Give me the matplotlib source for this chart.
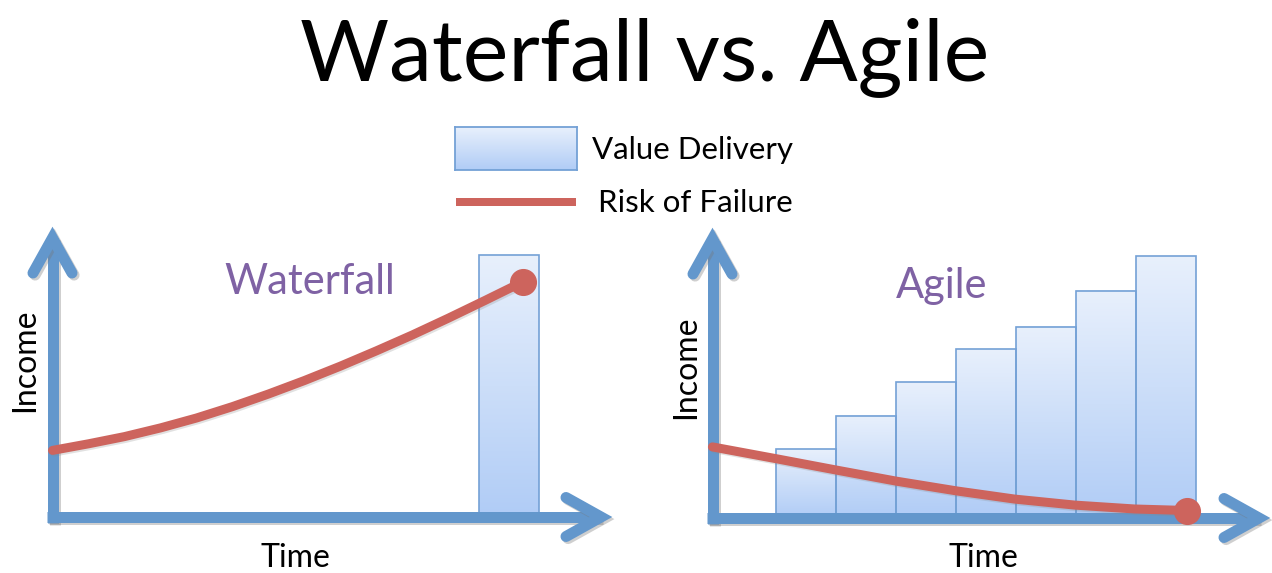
import numpy as np
import matplotlib
matplotlib.use("Agg")
import matplotlib.pyplot as plt
from matplotlib.lines import Line2D
from matplotlib.colors import LinearSegmentedColormap
import matplotlib.patheffects as pe

W, H = 1272, 573

# ---------------- data ----------------
title = "Waterfall vs. Agile"
legend_labels = ["Value Delivery", "Risk of Failure"]
panel_titles = ["Waterfall", "Agile"]
x_label = "Time"
y_label = "Income"

# Waterfall panel: one big delivery at the end
waterfall_bar_time = [7.6]
waterfall_bar_value = [8.73]
waterfall_risk_time = [0.0, 0.6, 1.2, 1.8, 2.4, 3.0, 3.6, 4.2, 4.8, 5.4, 6.0, 6.6, 7.2, 7.84]
waterfall_risk = [2.22, 2.44, 2.68, 2.97, 3.30, 3.68, 4.10, 4.55, 5.03, 5.54, 6.07, 6.63, 7.21, 7.84]

# Agile panel: incremental deliveries each sprint
agile_sprints = [1, 2, 3, 4, 5, 6, 7]
agile_value = [2.30, 3.40, 4.52, 5.62, 6.38, 7.58, 8.73]
agile_risk_time = [-0.56, 0.52, 1.5, 2.5, 3.52, 4.48, 5.48, 6.48, 7.35]
agile_risk = [2.37, 1.97, 1.60, 1.23, 0.90, 0.63, 0.43, 0.30, 0.25]

# ---------------- style ----------------
AXIS_BLUE = "#6397cc"
RISK_RED = "#cd645d"
PURPLE = "#7f62a4"
BAR_EDGE = "#74a1d6"
FONT = ["Lato", "DejaVu Sans"]
cmap = LinearSegmentedColormap.from_list("vd", ["#b0ccf6", "#e8f0fc"])
grad = np.linspace(0, 1, 256).reshape(-1, 1)

fig = plt.figure(figsize=(W / 100, H / 100), dpi=100)
fig.patch.set_facecolor("white")


def fx(px):
    return px / W


def fy(py):
    return 1 - py / H


def px_axes(left, right, bottom, top):
    return fig.add_axes([fx(left), fy(bottom), (right - left) / W, (bottom - top) / H])


shadow = [pe.SimpleLineShadow(offset=(1.5, -1.5), shadow_color="#777777", alpha=0.35), pe.Normal()]
red_shadow = [pe.SimpleLineShadow(offset=(1.2, -1.2), shadow_color="#888888", alpha=0.25), pe.Normal()]


def draw_arrow_axes(ax, ox, oy, tipx, tipy):
    lw = 11 * 0.72
    inset, back, side = 11, 35, 19.5
    segs = [
        ([ox, ox], [oy + 5.5, tipy + inset]),
        ([ox - 5.5, tipx - inset], [oy, oy]),
    ]
    for xs, ys in segs:
        ln = Line2D([fx(v) for v in xs], [fy(v) for v in ys], transform=fig.transFigure,
                    color=AXIS_BLUE, lw=lw, solid_capstyle="butt", clip_on=False, zorder=2,
                    path_effects=shadow)
        ax.add_artist(ln)
    cy = tipy + inset
    chev_v = ([ox - side, ox, ox + side], [cy + back, cy, cy + back])
    cx = tipx - inset
    chev_h = ([cx - back, cx, cx - back], [oy - side, oy, oy + side])
    for xs, ys in (chev_v, chev_h):
        ln = Line2D([fx(v) for v in xs], [fy(v) for v in ys], transform=fig.transFigure,
                    color=AXIS_BLUE, lw=lw, solid_capstyle="round", solid_joinstyle="miter",
                    clip_on=False, zorder=2, path_effects=shadow)
        ax.add_artist(ln)


def gradient_bars(ax, xs, hs, width):
    bars = ax.bar(xs, hs, width=width, bottom=0, facecolor="none", edgecolor=BAR_EDGE,
                  linewidth=1.2, zorder=1.5)
    for b in bars:
        x0, y0 = b.get_x(), b.get_y()
        w, h = b.get_width(), b.get_height()
        ax.imshow(grad, extent=[x0, x0 + w, y0, y0 + h], origin="lower", cmap=cmap,
                  aspect="auto", zorder=1, interpolation="bicubic")


# ---------------- Waterfall panel ----------------
axL = px_axes(52.5, 612, 517, 227)
gradient_bars(axL, waterfall_bar_time, waterfall_bar_value, 1.0)
axL.plot(waterfall_risk_time, waterfall_risk, color=RISK_RED, lw=6.5,
         solid_capstyle="round", solid_joinstyle="round", zorder=3, clip_on=False,
         path_effects=red_shadow)
axL.plot(waterfall_risk_time[-1], waterfall_risk[-1], "o", color=RISK_RED, ms=18.5,
         zorder=3, clip_on=False)
axL.set_xlim(0, (612 - 52.5) / 60)
axL.set_ylim(0, (517 - 227) / 30)
axL.axis("off")
draw_arrow_axes(axL, 52.5, 517, 612, 227)

# ---------------- Agile panel ----------------
axR = px_axes(712.5, 1270, 518, 228)
gradient_bars(axR, agile_sprints, agile_value, 1.0)
axR.plot(agile_risk_time, agile_risk, color=RISK_RED, lw=6.5,
         solid_capstyle="round", solid_joinstyle="round", zorder=3, clip_on=False,
         path_effects=red_shadow)
axR.plot(agile_risk_time[-1], agile_risk[-1], "o", color=RISK_RED, ms=18.5,
         zorder=3, clip_on=False)
axR.set_xlim((712.5 - 746) / 60, (1270 - 746) / 60)
axR.set_ylim(0, (518 - 228) / 30)
axR.axis("off")
draw_arrow_axes(axR, 712.5, 518, 1270, 228)

# ---------------- texts ----------------
fig.text(fx(645), fy(80), title, ha="center", va="baseline", fontsize=62, family=FONT)

fig.text(fx(310), fy(294), panel_titles[0], ha="center", va="baseline", fontsize=30,
         color=PURPLE, family=FONT)
fig.text(fx(942), fy(298), panel_titles[1], ha="center", va="baseline", fontsize=30,
         color=PURPLE, family=FONT)

fig.text(fx(295), fy(567), x_label, ha="center", va="baseline", fontsize=23, family=FONT)
fig.text(fx(983), fy(567), x_label, ha="center", va="baseline", fontsize=23, family=FONT)
fig.text(fx(34), fy(360), y_label, ha="center", va="baseline", rotation=90,
         rotation_mode="anchor", fontsize=23, family=FONT)
fig.text(fx(695), fy(367), y_label, ha="center", va="baseline", rotation=90,
         rotation_mode="anchor", fontsize=23, family=FONT)

# ---------------- legend ----------------
axLeg = px_axes(455, 577, 170, 127)
axLeg.imshow(grad, extent=[0, 1, 0, 1], origin="lower", cmap=cmap, aspect="auto",
             interpolation="bicubic")
axLeg.set_xticks([])
axLeg.set_yticks([])
for s in axLeg.spines.values():
    s.set_edgecolor(BAR_EDGE)
    s.set_linewidth(1.3)
fig.add_artist(Line2D([fx(456), fx(576)], [fy(202), fy(202)], transform=fig.transFigure,
                      color=RISK_RED, lw=8 * 0.72, solid_capstyle="butt"))
fig.text(fx(592), fy(159), legend_labels[0], ha="left", va="baseline", fontsize=22.5, family=FONT)
fig.text(fx(598), fy(212), legend_labels[1], ha="left", va="baseline", fontsize=22.5, family=FONT)

fig.savefig("out.png", dpi=100, facecolor="white")
